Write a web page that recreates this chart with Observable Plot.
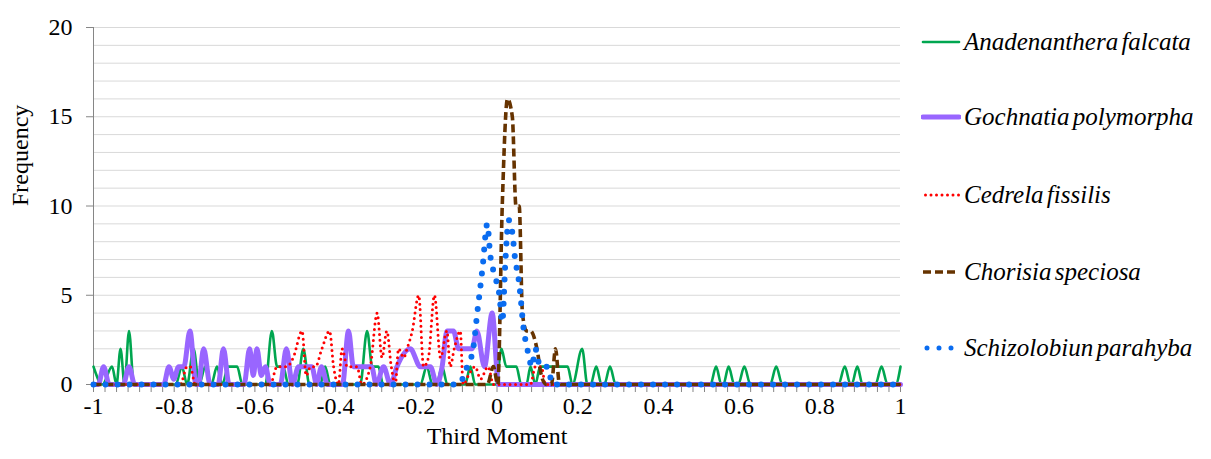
<!DOCTYPE html>
<html><head><meta charset="utf-8">
<script src="https://cdn.jsdelivr.net/npm/d3@7"></script>
<script src="https://cdn.jsdelivr.net/npm/@observablehq/plot@0.6"></script>
<style>
body{margin:0;background:#fff;font-family:"Liberation Serif","Times New Roman",serif;}
#wrap{position:relative;width:1211px;height:459px;overflow:hidden;}
#chart{position:absolute;left:0;top:0;}
#legend{position:absolute;left:0;top:0;}
.item{position:absolute;left:921px;height:30px;display:flex;align-items:center;font-family:"Liberation Serif","Times New Roman",serif;font-style:italic;font-size:25px;word-spacing:-3px;white-space:nowrap;color:#000;}
.item span{font-family:"Liberation Serif",serif;font-style:italic;}
.item svg{margin-right:3px;}
</style></head><body>
<div id="wrap"><div id="chart"></div><div id="legend"></div></div>
<script>
// ---- data ----
const seriesNames = ["Anadenanthera falcata","Gochnatia polymorpha","Cedrela fissilis","Chorisia speciosa","Schizolobiun parahyba"];
const seriesColors = ["#00A650","#9966FF","#FF0000","#663300","#0A6CF0"];

const xTicks = [-1,-0.8,-0.6,-0.4,-0.2,0,0.2,0.4,0.6,0.8,1];
const xTickLabels = ["-1","-0.8","-0.6","-0.4","-0.2","0","0.2","0.4","0.6","0.8","1"];
const yTicks = [0,5,10,15,20];
const yTickLabels = ["0","5","10","15","20"];

const anadenantheraX = [-1,-0.978,-0.954,-0.943,-0.933,-0.923,-0.912,-0.900,-0.796,-0.781,-0.768,-0.752,-0.738,-0.723,-0.708,-0.694,-0.681,-0.666,-0.644,-0.631,-0.574,-0.558,-0.545,-0.530,-0.517,-0.495,-0.480,-0.465,-0.438,-0.426,-0.413,-0.339,-0.322,-0.309,-0.294,-0.282,-0.190,-0.174,-0.160,-0.150,-0.136,-0.123,-0.079,-0.066,-0.054,-0.002,0.011,0.023,0.048,0.060,0.073,0.083,0.095,0.107,0.175,0.187,0.211,0.224,0.232,0.246,0.259,0.266,0.280,0.294,0.529,0.543,0.556,0.561,0.574,0.588,0.598,0.613,0.628,0.677,0.692,0.707,0.846,0.862,0.876,0.879,0.893,0.906,0.938,0.953,0.968,0.988,1];
const anadenantheraY = [1,0,1,0,2,0,3,0, 0,1,0,2,0,1,0,1,0,1,1,0, 0,3,1,1,0, 0,2,0, 0,1,0, 0,3,1,1,0, 0,1,0, 0,1,0, 0,1,0, 0,2,1,1,0, 0,1,0,1,1,0, 2,0, 0,1,0, 0,1,0, 0,1,0, 0,1,0, 0,1,0, 0,1,0, 0,1,0, 0,1,0, 0,1,0, 0,1];

const gochnatiaX = [-1,-0.988,-0.975,-0.961,-0.926,-0.912,-0.898,-0.826,-0.813,-0.801,-0.789,-0.776,-0.761,-0.746,-0.740,-0.727,-0.711,-0.691,-0.678,-0.664,-0.627,-0.613,-0.604,-0.595,-0.584,-0.574,-0.562,-0.537,-0.522,-0.507,-0.492,-0.459,-0.447,-0.435,-0.420,-0.383,-0.368,-0.356,-0.311,-0.299,-0.281,-0.264,-0.248,-0.215,-0.190,-0.165,-0.149,-0.136,-0.124,-0.108,-0.095,-0.062,-0.050,-0.031,-0.012,0.004,1];
const gochnatiaY = [0,0,1,0,0,1,0,0,1,0.3, 1,1,3,0,0,2,0,0,2,0, 0,2,0.5,2,0.5,1,0,0,2,0, 1,1,0,1,0,0,3,1,1,0, 1,0,1,2,1,1,0,1,3,3, 2,2,3,1,4,0,0];

const cedrelaX = [-1,-0.785,-0.768,-0.760,-0.748,-0.562,-0.545,-0.521,-0.505,-0.483,-0.473,-0.462,-0.450,-0.434,-0.415,-0.405,-0.393,-0.384,-0.371,-0.347,-0.335,-0.314,-0.297,-0.285,-0.273,-0.262,-0.252,-0.244,-0.231,-0.223,-0.210,-0.194,-0.182,-0.170,-0.155,-0.140,-0.124,-0.116,-0.106,-0.091,-0.084,-0.071,-0.054,-0.041,-0.022,-0.009,0.083,0.095,0.110,0.120,1];
const cedrelaY = [0,0,1,1,0,0,1,1,1.5,3, 0.5,1,1,2,3,1,0,2,1,1, 0,1,4,1.5,3,1,0,2,1.5,2, 3,5,1,1.5,5,1.5,3,1,2,3, 0,0.5,1,0.3,1,0,0,1,1,0, 0];

const chorisiaX = [-1,-0.024,-0.009,0.002,0.013,0.026,0.038,0.047,0.055,0.063,0.073,0.083,0.099,0.110,0.122,0.135,0.145,0.155,1];
const chorisiaY = [0,0,1,0,10,16,15,10,10,4,3,3,2,0.5,0,0,2,0,0];

const schizolobiumX = [-1,-0.096,-0.074,-0.059,-0.049,-0.036,-0.024,-0.017,-0.004,0.006,0.013,0.021,0.029,0.038,0.045,0.053,0.058,0.065,0.075,0.087,0.095,0.107,0.125,0.138,1];
const schizolobiumY = [0,0,1,2,4,6.5,9,7.3,6,5,3.5,7,9.2,8.5,7,6,5,3.3,2,1,2,1,1,0,0];

// ---- build tables ----
const toRows = (xs, ys) => xs.map((x, i) => ({x, y: ys[i]}));
const series = [
  {rows: toRows(anadenantheraX, anadenantheraY), width: 2.6, dash: null, cap: "round"},
  {rows: toRows(gochnatiaX, gochnatiaY), width: 5, dash: null, cap: "round"},
  {rows: toRows(cedrelaX, cedrelaY), width: 3, dash: "0 5.5", cap: "round"},
  {rows: toRows(chorisiaX, chorisiaY), width: 3.6, dash: "8 4", cap: "butt"},
  {rows: toRows(schizolobiumX, schizolobiumY), width: 6, dash: "0 12", cap: "round"}
];

const xMinorTicks = d3.range(0, 71).map(i => -1 + i * 2 / 70);
const yMinorGrid = d3.range(1, 21);
const xLabelMap = new Map(xTicks.map((d, i) => [d, xTickLabels[i]]));
const yLabelMap = new Map(yTicks.map((d, i) => [d, yTickLabels[i]]));

const axisGray = "#868686";

const lineMarks = series.map((s, i) => Plot.line(s.rows, {
  x: "x", y: "y", curve: "monotone-x",
  stroke: seriesColors[i], strokeWidth: s.width,
  strokeDasharray: s.dash, strokeLinecap: s.cap, strokeLinejoin: "round"
}));

const chart = Plot.plot({
  width: 910, height: 459,
  marginLeft: 93, marginRight: 10, marginTop: 27, marginBottom: 75,
  x: {domain: [-1, 1]},
  y: {domain: [0, 20]},
  style: {fontFamily: "'Liberation Serif','Times New Roman',serif", fontSize: "24px", color: "#000", background: "white", overflow: "visible"},
  marks: [
    Plot.gridY(yMinorGrid, {stroke: "#d9d9d9", strokeOpacity: 1, strokeWidth: 1}),
    Plot.ruleX([-1], {stroke: axisGray, strokeWidth: 1}),
    Plot.ruleY([0], {stroke: axisGray, strokeWidth: 1}),
    Plot.axisY(yTicks, {tickSize: 7, tickPadding: 14, stroke: axisGray, fill: "#000", label: null, tickFormat: d => yLabelMap.get(d)}),
    Plot.axisX(xMinorTicks, {tickSize: 8, stroke: axisGray, tickFormat: () => "", label: null}),
    Plot.axisX(xTicks, {tickSize: 0, tickPadding: 12, fill: "#000", label: null, tickFormat: d => xLabelMap.get(d)}),
    Plot.text(["Frequency"], {frameAnchor: "left", rotate: -90, dx: -73, fill: "#000", fontSize: 24}),
    Plot.text(["Third Moment"], {frameAnchor: "bottom", dy: 59, fill: "#000", fontSize: 24}),
    ...lineMarks
  ]
});
document.getElementById("chart").appendChild(chart);

// ---- legend (HTML, right side) ----
const legendCenters = [41.7, 116.7, 195, 271.7, 348.3];
const legend = document.getElementById("legend");
seriesNames.forEach((name, i) => {
  const s = series[i];
  const div = document.createElement("div");
  div.className = "item";
  div.style.top = (legendCenters[i] - 15) + "px";
  const dashAttr = s.dash ? `stroke-dasharray="${s.dash}"` : "";
  const x1 = s.cap === "round" && s.dash ? 3 + s.width / 2 : 2;
  div.innerHTML = `<svg width="40" height="14"><line x1="${x1}" x2="38" y1="7" y2="7" stroke="${seriesColors[i]}" stroke-width="${Math.min(s.width, 5)}" stroke-linecap="${s.cap}" ${dashAttr}/></svg><span>${name}</span>`;
  legend.appendChild(div);
});
</script>
</body></html>
